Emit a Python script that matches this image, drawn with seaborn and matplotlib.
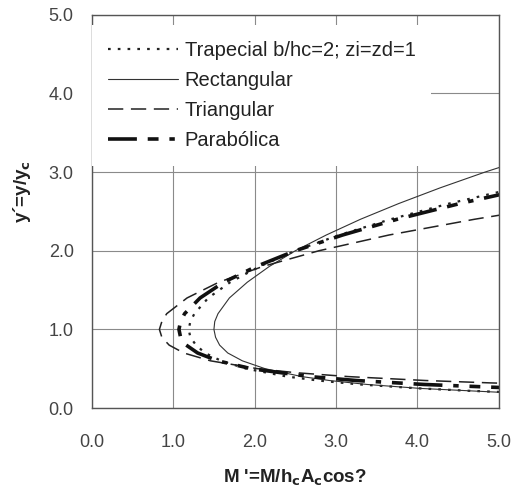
import matplotlib
matplotlib.use("Agg")
import matplotlib.pyplot as plt
import seaborn as sns
import pandas as pd

# y' = y/yc  vs  M' = M/(hc Ac cos)
trap_y = [0.20, 0.22, 0.25, 0.30, 0.35, 0.40, 0.50, 0.60, 0.70, 0.80, 0.90, 1.00,
          1.10, 1.20, 1.40, 1.60, 1.80, 2.00, 2.20, 2.40, 2.60, 2.80]
trap_m = [5.13, 4.62, 4.02, 3.29, 2.78, 2.40, 1.90, 1.59, 1.39, 1.28, 1.21, 1.19,
          1.21, 1.26, 1.43, 1.70, 2.06, 2.50, 3.04, 3.67, 4.39, 5.22]

rect_y = [0.20, 0.25, 0.30, 0.35, 0.40, 0.50, 0.60, 0.70, 0.80, 0.90, 1.00, 1.10,
          1.20, 1.40, 1.60, 1.80, 2.00, 2.20, 2.40, 2.60, 2.80, 3.00, 3.10]
rect_m = [5.02, 4.03, 3.38, 2.92, 2.58, 2.13, 1.85, 1.67, 1.57, 1.52, 1.50, 1.51,
          1.55, 1.69, 1.91, 2.18, 2.50, 2.88, 3.30, 3.77, 4.28, 4.83, 5.13]

tri_y = [0.30, 0.32, 0.35, 0.40, 0.45, 0.50, 0.60, 0.70, 0.80, 0.90, 1.00, 1.10,
         1.20, 1.40, 1.60, 1.80, 2.00, 2.20, 2.40, 2.50]
tri_m = [5.57, 4.89, 4.10, 3.15, 2.50, 2.04, 1.46, 1.13, 0.95, 0.86, 0.83, 0.86,
         0.92, 1.17, 1.56, 2.10, 2.79, 3.65, 4.70, 5.29]

para_y = [0.25, 0.26, 0.30, 0.35, 0.40, 0.50, 0.60, 0.70, 0.80, 0.90, 1.00, 1.10,
          1.20, 1.40, 1.60, 1.80, 2.00, 2.20, 2.40, 2.60, 2.80]
para_m = [5.35, 5.04, 4.08, 3.25, 2.68, 1.96, 1.55, 1.30, 1.16, 1.09, 1.07, 1.09,
          1.14, 1.33, 1.62, 2.02, 2.50, 3.08, 3.75, 4.52, 5.39]

labels = ["Trapecial b/hc=2; zi=zd=1", "Rectangular", "Triangular", "Parabólica"]
ticks = [0.0, 1.0, 2.0, 3.0, 4.0, 5.0]
tick_labels = ["0.0", "1.0", "2.0", "3.0", "4.0", "5.0"]

sns.set_style("white")
plt.rcParams["font.family"] = ["Liberation Sans", "DejaVu Sans"]

fig = plt.figure(figsize=(5.19, 4.94), dpi=100)
ax = fig.add_axes([0.177, 0.174, 0.784, 0.796])

series = [
    (trap_m, trap_y, dict(lw=1.6, dashes=(1.2, 3.2), color="#222222")),
    (rect_m, rect_y, dict(lw=0.8, color="#333333")),
    (tri_m, tri_y, dict(lw=1.1, dashes=(10, 5), color="#222222")),
    (para_m, para_y, dict(lw=2.6, dashes=(8, 3, 3, 3, 1.5, 3), color="#111111")),
]
for (m, y, style), lab in zip(series, labels):
    df = pd.DataFrame({"M": m, "y": y})
    sns.lineplot(data=df, x="M", y="y", sort=False, estimator=None, ax=ax,
                 label=lab, **style)

ax.set_xlim(0, 5)
ax.set_ylim(0, 5)
ax.set_xticks(ticks)
ax.set_xticklabels(tick_labels)
ax.set_yticks(ticks)
ax.set_yticklabels(tick_labels)
ax.grid(True, color="#8a8a8a", lw=0.8)
ax.set_axisbelow(True)
for s in ax.spines.values():
    s.set_color("#555555")
    s.set_linewidth(1.0)
ax.tick_params(axis="both", direction="out", length=5, width=0.9, color="#555555",
               labelsize=13, labelcolor="#444444", pad=8)
ax.tick_params(axis="x", pad=14)

ax.set_xlabel("M '=M/h$_\\mathbf{c}$A$_\\mathbf{c}$cos?", fontsize=13.5, fontweight="bold",
              color="#222222", labelpad=12)
ax.set_ylabel("y´=y/y$_\\mathbf{c}$", fontsize=13.5, fontweight="bold", color="#222222")
ax.yaxis.set_label_coords(-0.145, 0.55)

leg = ax.legend(loc="upper left", bbox_to_anchor=(0.0, 0.975), borderaxespad=0,
                fontsize=14.5, handlelength=3.5, handletextpad=0.3, labelspacing=0.55,
                borderpad=0.8, frameon=True, facecolor="white", edgecolor="white",
                framealpha=1.0, fancybox=False)
leg.get_frame().set_linewidth(0)
for t in leg.get_texts():
    t.set_color("#222222")

fig.savefig("out.png", dpi=100)
